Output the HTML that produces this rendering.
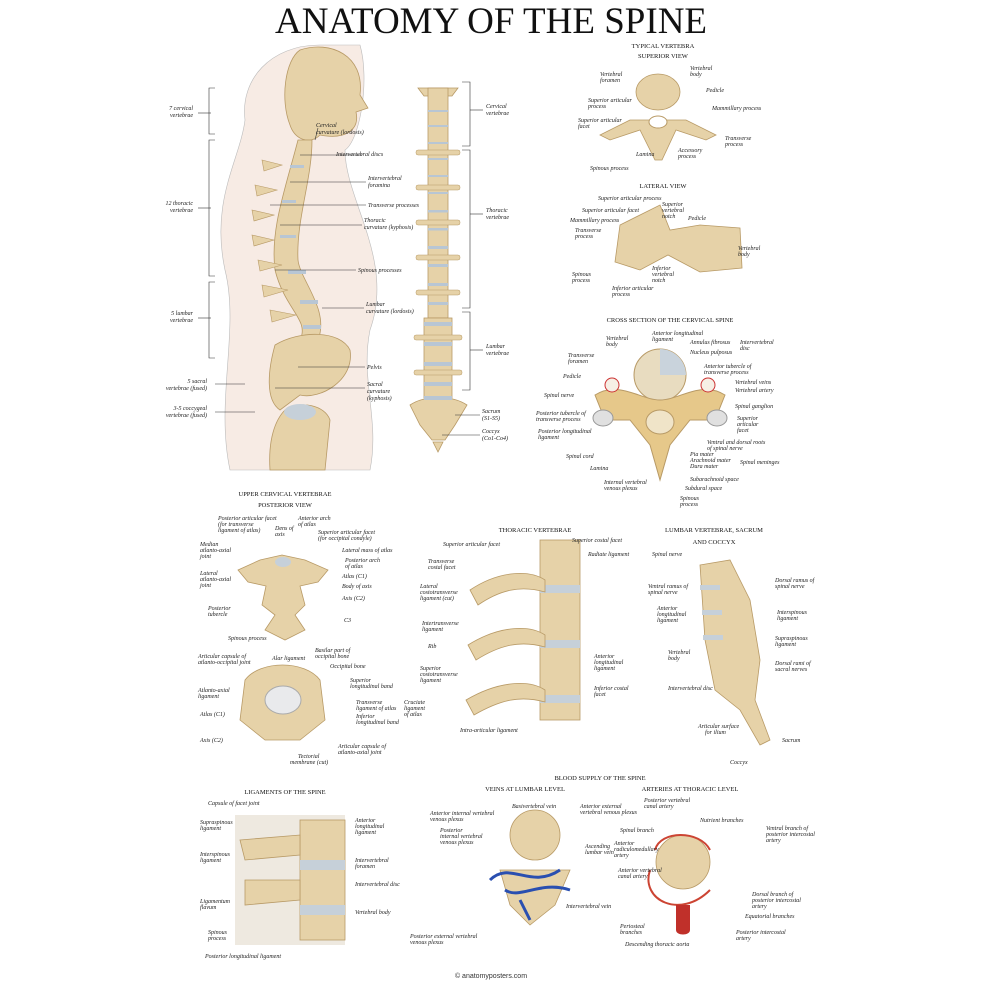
<!DOCTYPE html>
<html><head><meta charset="utf-8"><style>
html,body{margin:0;padding:0;background:#fff}
svg{display:block}
.t{font-family:"Liberation Serif",serif;font-style:italic;font-size:6px;fill:#222}
.h{font-family:"Liberation Serif",serif;font-size:10px;fill:#111}
.s{font-family:"Liberation Serif",serif;font-size:6.5px;fill:#111}
.b{fill:#e6d2a8;stroke:#b89a66;stroke-width:.8}
.d{fill:#b8c6d4}
.l{stroke:#333;stroke-width:.6;fill:none}
</style></head><body>
<svg width="983" height="983" viewBox="0 0 983 983" xmlns="http://www.w3.org/2000/svg">
<text x="491" y="33" text-anchor="middle" font-family="Liberation Serif,serif" font-size="37" fill="#111">ANATOMY OF THE SPINE</text>

<!-- side body -->
<path d="M230 470 C215 400 240 330 225 270 C210 200 240 160 245 120 C240 80 270 45 320 45 L360 45 C370 80 360 140 345 150 C345 200 395 260 370 330 C360 380 380 420 370 470 Z" fill="#f7ebe4" stroke="#bbb" stroke-width=".6"/>
<path d="M300 50 C330 40 365 55 360 95 L368 108 L356 112 C360 130 345 140 320 135 C310 145 295 140 290 125 C280 100 285 60 300 50Z" class="b"/>
<g class="b">
<path d="M298 140 C285 190 270 230 275 270 C285 310 310 320 300 340 L318 340 C330 310 300 280 298 260 C296 220 312 180 312 140Z"/>
</g>
<g fill="#b8c6d4"><rect x="290" y="165" width="14" height="3"/><rect x="282" y="200" width="14" height="3"/><rect x="280" y="235" width="16" height="3"/><rect x="288" y="270" width="18" height="4"/><rect x="300" y="300" width="18" height="4"/><rect x="303" y="325" width="18" height="4"/></g>
<g fill="#e6d2a8" stroke="#b89a66" stroke-width=".6">
<path d="M262 160 l20 5 l-18 6z"/><path d="M255 185 l22 5 l-20 6z"/><path d="M252 210 l22 5 l-20 6z"/><path d="M252 235 l22 5 l-20 6z"/><path d="M258 260 l24 5 l-22 6z"/><path d="M262 285 l26 5 l-24 7z"/><path d="M270 310 l26 5 l-24 7z"/>
</g>
<path d="M275 345 C300 330 340 330 350 350 C355 380 320 400 300 395 L280 410 C265 400 268 370 275 345Z" class="b"/>
<path d="M285 410 C300 400 325 405 330 420 L325 470 L270 470 C268 440 275 420 285 410Z" class="b"/>
<ellipse cx="300" cy="412" rx="16" ry="8" fill="#c6d0d9"/>

<!-- side brackets -->
<g class="l">
<path d="M215 88 h-6 v46 h6 M215 140 h-6 v136 h6 M215 282 h-6 v76 h6"/>
<line x1="211" y1="113" x2="198" y2="113"/><line x1="211" y1="208" x2="198" y2="208"/><line x1="211" y1="318" x2="198" y2="318"/>
<line x1="215" y1="384" x2="245" y2="384"/><line x1="215" y1="412" x2="255" y2="412"/>
<line x1="318" y1="128" x2="315" y2="140"/><line x1="300" y1="155" x2="362" y2="155"/><line x1="290" y1="182" x2="366" y2="182"/><line x1="270" y1="205" x2="366" y2="205"/><line x1="280" y1="225" x2="362" y2="225"/><line x1="275" y1="270" x2="356" y2="270"/><line x1="322" y1="308" x2="364" y2="308"/><line x1="298" y1="367" x2="365" y2="367"/><line x1="275" y1="388" x2="365" y2="388"/>
</g>
<g class="t">
<text x="193" y="110" text-anchor="end">7 cervical</text><text x="193" y="117" text-anchor="end">vertebrae</text>
<text x="193" y="205" text-anchor="end">12 thoracic</text><text x="193" y="212" text-anchor="end">vertebrae</text>
<text x="193" y="315" text-anchor="end">5 lumbar</text><text x="193" y="322" text-anchor="end">vertebrae</text>
<text x="207" y="383" text-anchor="end">5 sacral</text><text x="207" y="390" text-anchor="end">vertebrae (fused)</text>
<text x="207" y="410" text-anchor="end">3-5 coccygeal</text><text x="207" y="417" text-anchor="end">vertebrae (fused)</text>
<text x="316" y="127">Cervical</text><text x="316" y="134">curvature (lordosis)</text>
<text x="336" y="156">Intervertebral discs</text>
<text x="368" y="180">Intervertebral</text><text x="368" y="187">foramina</text>
<text x="368" y="207">Transverse processes</text>
<text x="364" y="222">Thoracic</text><text x="364" y="229">curvature (kyphosis)</text>
<text x="358" y="272">Spinous processes</text>
<text x="366" y="306">Lumbar</text><text x="366" y="313">curvature (lordosis)</text>
<text x="367" y="369">Pelvis</text>
<text x="367" y="386">Sacral</text><text x="367" y="393">curvature</text><text x="367" y="400">(kyphosis)</text>
</g>

<!-- front spine -->
<g>
<path d="M418 88 L458 88 L452 96 L424 96Z" class="b"/>
<rect x="428" y="88" width="20" height="230" class="b"/>
<rect x="424" y="318" width="28" height="80" class="b"/>
<path d="M410 405 C425 395 452 395 467 405 L455 425 L445 440 L432 440 L420 425Z" class="b"/>
<path d="M433 442 h10 l-5 10z" class="b"/>
<g fill="#b8c6d4">
<rect x="428" y="110" width="20" height="2"/><rect x="428" y="125" width="20" height="2"/><rect x="428" y="142" width="20" height="2"/><rect x="428" y="158" width="20" height="2"/><rect x="428" y="175" width="20" height="2"/><rect x="428" y="192" width="20" height="2"/><rect x="428" y="210" width="20" height="2.5"/><rect x="428" y="228" width="20" height="2.5"/><rect x="428" y="246" width="20" height="3"/><rect x="428" y="264" width="20" height="3"/><rect x="428" y="283" width="20" height="3"/><rect x="428" y="302" width="20" height="3"/><rect x="424" y="322" width="28" height="4"/><rect x="424" y="342" width="28" height="4"/><rect x="424" y="362" width="28" height="4"/><rect x="424" y="382" width="28" height="4"/><rect x="424" y="396" width="28" height="4"/>
</g>
<g fill="#e6d2a8" stroke="#b89a66" stroke-width=".5">
<rect x="416" y="150" width="44" height="5" rx="2"/><rect x="416" y="185" width="44" height="5" rx="2"/><rect x="416" y="220" width="44" height="5" rx="2"/><rect x="416" y="255" width="44" height="5" rx="2"/><rect x="416" y="290" width="44" height="5" rx="2"/><rect x="414" y="335" width="48" height="5" rx="2"/><rect x="414" y="370" width="48" height="5" rx="2"/>
</g>
</g>
<g class="l">
<path d="M462 82 h8 v64 h-8 M462 150 h8 v158 h-8 M462 312 h8 v78 h-8"/>
<line x1="470" y1="110" x2="483" y2="110"/><line x1="470" y1="214" x2="483" y2="214"/><line x1="470" y1="350" x2="483" y2="350"/>
<line x1="455" y1="415" x2="480" y2="415"/><line x1="442" y1="435" x2="480" y2="435"/>
</g>
<g class="t">
<text x="486" y="108">Cervical</text><text x="486" y="115">vertebrae</text>
<text x="486" y="212">Thoracic</text><text x="486" y="219">vertebrae</text>
<text x="486" y="348">Lumbar</text><text x="486" y="355">vertebrae</text>
<text x="482" y="413">Sacrum</text><text x="482" y="420">(S1-S5)</text>
<text x="482" y="433">Coccyx</text><text x="482" y="440">(Co1-Co4)</text>
</g>

<!-- typical vertebra -->
<text x="663" y="48" text-anchor="middle" class="s" font-size="8">TYPICAL VERTEBRA</text>
<text x="663" y="58" text-anchor="middle" class="s" font-size="5.5">SUPERIOR VIEW</text>
<ellipse cx="658" cy="92" rx="22" ry="18" class="b"/>
<path d="M630 120 L600 135 L610 140 L640 130 L655 160 L662 160 L676 130 L706 140 L716 135 L686 120 Z" class="b"/>
<ellipse cx="658" cy="122" rx="9" ry="6" fill="#fff" stroke="#b89a66"/>
<text x="663" y="188" text-anchor="middle" class="s" font-size="5.5">LATERAL VIEW</text>
<path d="M620 225 L660 205 L670 230 L700 225 L740 228 L742 268 L700 272 L668 255 L640 270 L615 262 Z" class="b"/>
<g class="t">
<text x="600" y="76">Vertebral</text><text x="600" y="82">foramen</text>
<text x="690" y="70">Vertebral</text><text x="690" y="76">body</text>
<text x="588" y="102">Superior articular</text><text x="588" y="108">process</text>
<text x="706" y="92">Pedicle</text>
<text x="712" y="110">Mammillary process</text>
<text x="578" y="122">Superior articular</text><text x="578" y="128">facet</text>
<text x="725" y="140">Transverse</text><text x="725" y="146">process</text>
<text x="636" y="156">Lamina</text><text x="678" y="152">Accessory</text><text x="678" y="158">process</text>
<text x="590" y="170">Spinous process</text>
<text x="598" y="200">Superior articular process</text>
<text x="582" y="212">Superior articular facet</text>
<text x="570" y="222">Mammillary process</text>
<text x="575" y="232">Transverse</text><text x="575" y="238">process</text>
<text x="662" y="206">Superior</text><text x="662" y="212">vertebral</text><text x="662" y="218">notch</text>
<text x="688" y="220">Pedicle</text>
<text x="738" y="250">Vertebral</text><text x="738" y="256">body</text>
<text x="572" y="276">Spinous</text><text x="572" y="282">process</text>
<text x="652" y="270">Inferior</text><text x="652" y="276">vertebral</text><text x="652" y="282">notch</text>
<text x="612" y="290">Inferior articular</text><text x="612" y="296">process</text>
</g>

<!-- cross section -->
<text x="670" y="322" text-anchor="middle" class="s" font-size="9">CROSS SECTION OF THE CERVICAL SPINE</text>
<circle cx="660" cy="375" r="26" fill="#e8dcc0" stroke="#b89a66"/>
<path d="M660 349 A26 26 0 0 1 686 375 L660 375Z" fill="#c9d3dc"/>
<path d="M595 395 C620 380 640 400 660 400 C680 400 700 380 725 395 L715 420 L690 420 L670 445 L660 480 L650 445 L630 420 L605 420 Z" fill="#e6c88a" stroke="#b89a66"/>
<ellipse cx="660" cy="422" rx="14" ry="12" fill="#f0e4c8" stroke="#b89a66"/>
<circle cx="612" cy="385" r="7" fill="#f6efe5" stroke="#c33"/><circle cx="708" cy="385" r="7" fill="#f6efe5" stroke="#c33"/>
<ellipse cx="603" cy="418" rx="10" ry="8" fill="#e0e0e0" stroke="#999"/><ellipse cx="717" cy="418" rx="10" ry="8" fill="#e0e0e0" stroke="#999"/>
<g class="t">
<text x="606" y="340">Vertebral</text><text x="606" y="346">body</text>
<text x="652" y="335">Anterior longitudinal</text><text x="652" y="341">ligament</text>
<text x="690" y="344">Annulus fibrosus</text><text x="690" y="354">Nucleus pulposus</text>
<text x="740" y="344">Intervertebral</text><text x="740" y="350">disc</text>
<text x="568" y="357">Transverse</text><text x="568" y="363">foramen</text>
<text x="704" y="368">Anterior tubercle of</text><text x="704" y="374">transverse process</text>
<text x="563" y="378">Pedicle</text><text x="735" y="384">Vertebral veins</text><text x="735" y="392">Vertebral artery</text>
<text x="544" y="397">Spinal nerve</text>
<text x="735" y="408">Spinal ganglion</text>
<text x="536" y="415">Posterior tubercle of</text><text x="536" y="421">transverse process</text>
<text x="737" y="420">Superior</text><text x="737" y="426">articular</text><text x="737" y="432">facet</text>
<text x="538" y="433">Posterior longitudinal</text><text x="538" y="439">ligament</text>
<text x="707" y="444">Ventral and dorsal roots</text><text x="707" y="450">of spinal nerve</text>
<text x="690" y="456">Pia mater</text><text x="690" y="462">Arachnoid mater</text><text x="690" y="468">Dura mater</text>
<text x="740" y="464">Spinal meninges</text>
<text x="566" y="458">Spinal cord</text><text x="590" y="470">Lamina</text>
<text x="690" y="481">Subarachnoid space</text><text x="685" y="490">Subdural space</text>
<text x="604" y="484">Internal vertebral</text><text x="604" y="490">venous plexus</text>
<text x="680" y="500">Spinous</text><text x="680" y="506">process</text>
</g>

<!-- upper cervical -->
<text x="285" y="496" text-anchor="middle" class="s" font-size="9">UPPER CERVICAL VERTEBRAE</text>
<text x="285" y="507" text-anchor="middle" class="s" font-size="5.5">POSTERIOR VIEW</text>
<path d="M238 570 L260 560 L282 555 L305 560 L328 570 L318 582 L300 586 L305 605 L295 615 L305 630 L285 640 L265 630 L275 615 L262 605 L266 586 L248 582Z" class="b"/>
<ellipse cx="283" cy="562" rx="8" ry="5" fill="#c6d0d9"/>
<path d="M245 680 C260 660 305 660 320 680 L325 720 L300 740 L265 740 L240 720Z" class="b"/>
<ellipse cx="283" cy="700" rx="18" ry="14" fill="#e9eaec" stroke="#aaa"/>
<g class="t">
<text x="218" y="520">Posterior articular facet</text><text x="218" y="526">(for transverse</text><text x="218" y="532">ligament of atlas)</text>
<text x="275" y="530">Dens of</text><text x="275" y="536">axis</text>
<text x="298" y="520">Anterior arch</text><text x="298" y="526">of atlas</text>
<text x="318" y="534">Superior articular facet</text><text x="318" y="540">(for occipital condyle)</text>
<text x="200" y="546">Median</text><text x="200" y="552">atlanto-axial</text><text x="200" y="558">joint</text>
<text x="342" y="552">Lateral mass of atlas</text>
<text x="345" y="562">Posterior arch</text><text x="345" y="568">of atlas</text>
<text x="200" y="575">Lateral</text><text x="200" y="581">atlanto-axial</text><text x="200" y="587">joint</text>
<text x="342" y="578">Atlas (C1)</text><text x="342" y="588">Body of axis</text><text x="342" y="600">Axis (C2)</text>
<text x="208" y="610">Posterior</text><text x="208" y="616">tubercle</text><text x="344" y="622">C3</text>
<text x="228" y="640">Spinous process</text>
<text x="198" y="658">Articular capsule of</text><text x="198" y="664">atlanto-occipital joint</text>
<text x="272" y="660">Alar ligament</text>
<text x="315" y="652">Basilar part of</text><text x="315" y="658">occipital bone</text>
<text x="330" y="668">Occipital bone</text>
<text x="350" y="682">Superior</text><text x="350" y="688">longitudinal band</text>
<text x="198" y="692">Atlanto-axial</text><text x="198" y="698">ligament</text>
<text x="200" y="716">Atlas (C1)</text>
<text x="356" y="704">Transverse</text><text x="356" y="710">ligament of atlas</text>
<text x="404" y="704">Cruciate</text><text x="404" y="710">ligament</text><text x="404" y="716">of atlas</text>
<text x="356" y="718">Inferior</text><text x="356" y="724">longitudinal band</text>
<text x="200" y="742">Axis (C2)</text>
<text x="338" y="748">Articular capsule of</text><text x="338" y="754">atlanto-axial joint</text>
<text x="298" y="758">Tectorial</text><text x="290" y="764">membrane (cut)</text>
</g>

<!-- thoracic -->
<text x="535" y="532" text-anchor="middle" class="s" font-size="9">THORACIC VERTEBRAE</text>
<rect x="540" y="540" width="40" height="180" class="b"/>
<g fill="#c6d0d9"><rect x="540" y="585" width="40" height="8"/><rect x="540" y="640" width="40" height="8"/><rect x="540" y="695" width="40" height="8"/></g>
<path d="M470 590 C500 570 530 570 545 580 L545 592 C520 585 500 590 478 605Z" class="b"/>
<path d="M468 645 C500 625 530 625 545 635 L545 647 C520 640 500 645 476 660Z" class="b"/>
<path d="M466 700 C500 680 530 680 545 690 L545 702 C520 695 500 700 474 715Z" class="b"/>
<g class="t">
<text x="443" y="546">Superior articular facet</text><text x="572" y="542">Superior costal facet</text>
<text x="428" y="563">Transverse</text><text x="428" y="569">costal facet</text>
<text x="588" y="556">Radiate ligament</text>
<text x="420" y="588">Lateral</text><text x="420" y="594">costotransverse</text><text x="420" y="600">ligament (cut)</text>
<text x="422" y="625">Intertransverse</text><text x="422" y="631">ligament</text>
<text x="428" y="648">Rib</text>
<text x="420" y="670">Superior</text><text x="420" y="676">costotransverse</text><text x="420" y="682">ligament</text>
<text x="594" y="658">Anterior</text><text x="594" y="664">longitudinal</text><text x="594" y="670">ligament</text>
<text x="594" y="690">Inferior costal</text><text x="594" y="696">facet</text>
<text x="460" y="732">Intra-articular ligament</text>
</g>

<!-- lumbar -->
<text x="714" y="532" text-anchor="middle" class="s" font-size="9">LUMBAR VERTEBRAE, SACRUM</text>
<text x="714" y="544" text-anchor="middle" class="s" font-size="9">AND COCCYX</text>
<path d="M700 565 L730 560 L750 600 L760 660 L755 700 L770 740 L760 745 L740 710 L715 690 L705 640 Z" class="b"/>
<g fill="#c6d0d9"><rect x="700" y="585" width="20" height="5"/><rect x="702" y="610" width="20" height="5"/><rect x="703" y="635" width="20" height="5"/></g>
<g class="t">
<text x="652" y="556">Spinal nerve</text>
<text x="648" y="588">Ventral ramus of</text><text x="648" y="594">spinal nerve</text>
<text x="775" y="582">Dorsal ramus of</text><text x="775" y="588">spinal nerve</text>
<text x="657" y="610">Anterior</text><text x="657" y="616">longitudinal</text><text x="657" y="622">ligament</text>
<text x="777" y="614">Interspinous</text><text x="777" y="620">ligament</text>
<text x="775" y="640">Supraspinous</text><text x="775" y="646">ligament</text>
<text x="668" y="654">Vertebral</text><text x="668" y="660">body</text>
<text x="775" y="665">Dorsal rami of</text><text x="775" y="671">sacral nerves</text>
<text x="668" y="690">Intervertebral disc</text>
<text x="698" y="728">Articular surface</text><text x="705" y="734">for ilium</text>
<text x="782" y="742">Sacrum</text><text x="730" y="764">Coccyx</text>
</g>

<!-- ligaments -->
<text x="285" y="794" text-anchor="middle" class="s" font-size="9">LIGAMENTS OF THE SPINE</text>
<rect x="235" y="815" width="110" height="130" fill="#eee9e0"/>
<rect x="300" y="820" width="45" height="120" class="b"/>
<g fill="#c6d0d9"><rect x="300" y="860" width="45" height="10"/><rect x="300" y="905" width="45" height="10"/></g>
<path d="M240 840 L300 835 L300 855 L245 860Z M245 880 L300 880 L300 900 L245 905Z" class="b"/>
<g class="t">
<text x="208" y="805">Capsule of facet joint</text>
<text x="200" y="824">Supraspinous</text><text x="200" y="830">ligament</text>
<text x="355" y="822">Anterior</text><text x="355" y="828">longitudinal</text><text x="355" y="834">ligament</text>
<text x="200" y="856">Interspinous</text><text x="200" y="862">ligament</text>
<text x="355" y="862">Intervertebral</text><text x="355" y="868">foramen</text>
<text x="355" y="886">Intervertebral disc</text>
<text x="200" y="903">Ligamentum</text><text x="200" y="909">flavum</text>
<text x="355" y="914">Vertebral body</text>
<text x="208" y="934">Spinous</text><text x="208" y="940">process</text>
<text x="205" y="958">Posterior longitudinal ligament</text>
</g>

<!-- blood supply -->
<text x="600" y="780" text-anchor="middle" class="s" font-size="9">BLOOD SUPPLY OF THE SPINE</text>
<text x="525" y="791" text-anchor="middle" class="s" font-size="5.5">VEINS AT LUMBAR LEVEL</text>
<text x="690" y="791" text-anchor="middle" class="s" font-size="5.5">ARTERIES AT THORACIC LEVEL</text>
<circle cx="535" cy="835" r="25" class="b"/>
<path d="M500 870 L570 870 L555 905 L530 925 L510 905 Z" class="b"/>
<path d="M490 880 C510 860 530 890 560 870 M505 890 C520 900 540 880 570 890 M520 900 l10 20" stroke="#2a4fb0" stroke-width="3" fill="none"/>
<circle cx="683" cy="862" r="27" class="b"/>
<path d="M650 870 C640 900 680 920 710 890 M655 850 C660 830 700 830 710 850" stroke="#c43" stroke-width="2" fill="none"/>
<path d="M676 905 h14 v25 c0 6 -14 6 -14 0Z" fill="#c0302a"/>
<g class="t">
<text x="512" y="808">Basivertebral vein</text>
<text x="430" y="815">Anterior internal vertebral</text><text x="430" y="821">venous plexus</text>
<text x="580" y="808">Anterior external</text><text x="580" y="814">vertebral venous plexus</text>
<text x="440" y="832">Posterior</text><text x="440" y="838">internal vertebral</text><text x="440" y="844">venous plexus</text>
<text x="585" y="848">Ascending</text><text x="585" y="854">lumbar vein</text>
<text x="566" y="908">Intervertebral vein</text>
<text x="410" y="938">Posterior external vertebral</text><text x="410" y="944">venous plexus</text>
<text x="644" y="802">Posterior vertebral</text><text x="644" y="808">canal artery</text>
<text x="700" y="822">Nutrient branches</text>
<text x="620" y="832">Spinal branch</text>
<text x="766" y="830">Ventral branch of</text><text x="766" y="836">posterior intercostal</text><text x="766" y="842">artery</text>
<text x="614" y="845">Anterior</text><text x="614" y="851">radiculomedullary</text><text x="614" y="857">artery</text>
<text x="618" y="872">Anterior vertebral</text><text x="618" y="878">canal artery</text>
<text x="752" y="896">Dorsal branch of</text><text x="752" y="902">posterior intercostal</text><text x="752" y="908">artery</text>
<text x="745" y="918">Equatorial branches</text>
<text x="620" y="928">Periosteal</text><text x="620" y="934">branches</text>
<text x="736" y="934">Posterior intercostal</text><text x="736" y="940">artery</text>
<text x="625" y="946">Descending thoracic aorta</text>
</g>

<text x="491" y="978" text-anchor="middle" font-family="Liberation Sans,sans-serif" font-size="7" fill="#333">© anatomyposters.com</text>
</svg>
</body></html>
